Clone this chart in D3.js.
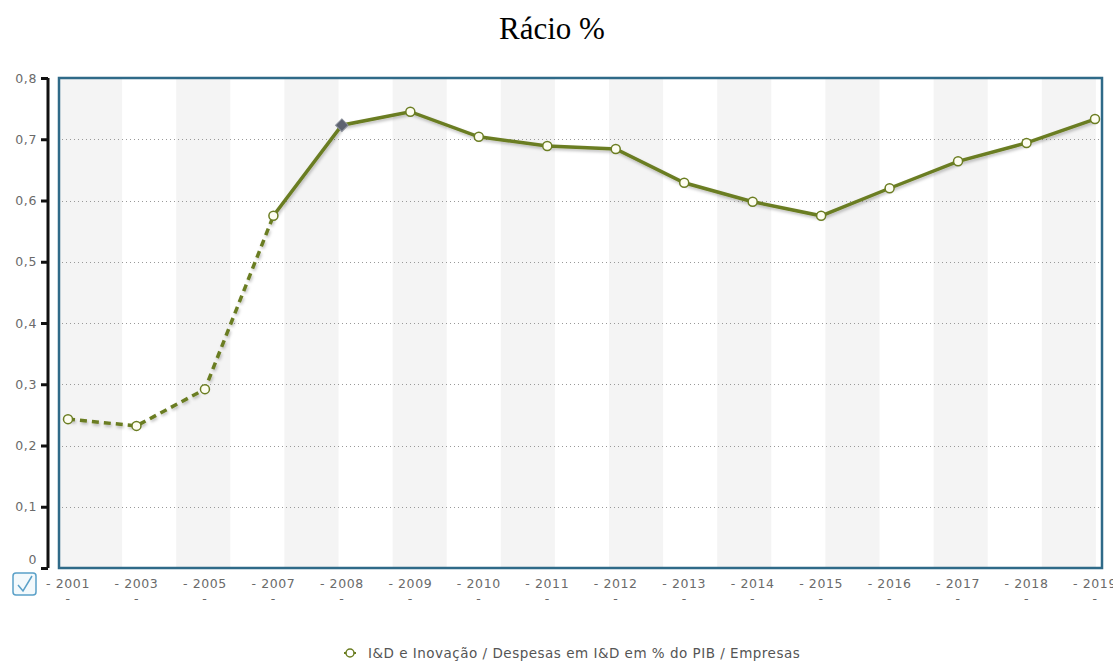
<!DOCTYPE html>
<html>
<head>
    <meta charset="utf-8">
    <title>Rácio %</title>
    <script src="https://cdn.jsdelivr.net/npm/d3@7"></script>
    <style>
        body {
            margin: 0;
            background: #fff;
        }

        .title {
            font-family: "Liberation Serif", "Times New Roman", serif;
            font-size: 31px;
            fill: #000;
        }

        .tick-label {
            font-family: "DejaVu Sans", Verdana, sans-serif;
            font-size: 12.5px;
            letter-spacing: 0.6px;
            fill: #6a6a6a;
        }

        .grid {
            stroke: #999;
            stroke-width: 1px;
            stroke-dasharray: 1, 3;
        }

        .band {
            fill: #f4f4f4;
        }

        .frame {
            fill: none;
            stroke: #2f6a88;
            stroke-width: 2.5px;
        }

        .legend {
            font-family: "DejaVu Sans", Verdana, sans-serif;
            font-size: 13.5px;
            letter-spacing: 0.5px;
            fill: #555;
        }
    </style>
</head>

<body>

<script type="text/javascript">
    var years = ['2001', '2003', '2005', '2007', '2008', '2009', '2010', '2011',
        '2012', '2013', '2014', '2015', '2016', '2017', '2018', '2019'];
    var values = [0.243, 0.232, 0.292, 0.575, 0.723, 0.745, 0.704, 0.689,
        0.684, 0.629, 0.598, 0.575, 0.620, 0.664, 0.694, 0.733];
    var yTicks = [0, 0.1, 0.2, 0.3, 0.4, 0.5, 0.6, 0.7, 0.8];
    var dashedUntil = '2007';   // estimated part of the series
    var highlighted = '2008';
    var seriesName = 'I&D e Inovação / Despesas em I&D em % do PIB / Empresas';

    var width = 1113,
        height = 664,
        lineColor = '#6b7d22';

    var frame = {left: 59, right: 1102, top: 78, bottom: 568};

    var svg = d3.select('body')
            .append('svg')
            .attr('width', width)
            .attr('height', height);

    var x = d3.scalePoint()
            .domain(years)
            .range([68, 1095]);

    var y = d3.scaleLinear()
            .domain([0, 0.8])
            .range([frame.bottom, frame.top]);

    var fmt = function (d) {
        return d === 0 ? '0' : d3.format('.1f')(d).replace('.', ',');
    };

    // title
    svg.append('text')
            .attr('class', 'title')
            .attr('x', 552)
            .attr('y', 39)
            .attr('text-anchor', 'middle')
            .text('Rácio %');

    // alternating background columns
    var bandW = 54.1;
    svg.append('g').selectAll('rect')
            .data(d3.range(0, 20, 2))
            .enter().append('rect')
            .attr('class', 'band')
            .attr('x', function (i) { return i === 0 ? frame.left : 68 + i * bandW; })
            .attr('width', function (i) { return i === 0 ? 68 + bandW - frame.left : bandW; })
            .attr('y', frame.top)
            .attr('height', frame.bottom - frame.top);

    // dotted grid
    svg.append('g').selectAll('line')
            .data(yTicks.filter(function (d) { return d > 0 && d < 0.8; }))
            .enter().append('line')
            .attr('class', 'grid')
            .attr('x1', frame.left + 3)
            .attr('x2', frame.right - 2)
            .attr('y1', function (d) { return Math.round(y(d)) + 0.5; })
            .attr('y2', function (d) { return Math.round(y(d)) + 0.5; });

    // y axis
    var yAxis = svg.append('g')
            .attr('transform', 'translate(48,0)')
            .call(d3.axisLeft(y).tickValues(yTicks).tickFormat(fmt).tickSize(7).tickPadding(4));
    yAxis.select('.domain').attr('stroke', '#111').attr('stroke-width', 3)
            .attr('d', 'M0,' + frame.top + 'V' + frame.bottom);
    yAxis.selectAll('.tick line').attr('stroke', '#111').attr('stroke-width', 3);
    yAxis.selectAll('.tick text').attr('class', 'tick-label').attr('font-family', null).attr('font-size', null)
            .attr('dy', function (d) { return d === 0 ? '-0.35em' : '0.32em'; });

    svg.append('rect')
            .attr('class', 'frame')
            .attr('x', frame.left)
            .attr('y', frame.top)
            .attr('width', frame.right - frame.left)
            .attr('height', frame.bottom - frame.top);

    // x labels
    var xl = svg.append('g').selectAll('g')
            .data(years)
            .enter().append('g')
            .attr('transform', function (d) { return 'translate(' + x(d) + ',0)'; });
    xl.append('text')
            .attr('class', 'tick-label')
            .attr('y', 588)
            .attr('text-anchor', 'middle')
            .text(function (d) { return '- ' + d; });
    xl.append('text')
            .attr('class', 'tick-label')
            .attr('y', 603)
            .attr('text-anchor', 'middle')
            .text('-');

    // checkbox icon
    var cb = svg.append('g').attr('transform', 'translate(13,573)');
    cb.append('rect').attr('width', 23).attr('height', 22).attr('rx', 3)
            .attr('fill', '#f3f9fc').attr('stroke', '#5aa0c8').attr('stroke-width', 1.5);
    cb.append('path').attr('d', 'M5,12 L10,18 L19,3')
            .attr('fill', 'none').attr('stroke', '#5aa0c8').attr('stroke-width', 1.5);

    // series
    var pts = years.map(function (d, i) { return {year: d, value: values[i]}; });
    var cut = years.indexOf(dashedUntil);
    var line = d3.line()
            .x(function (d) { return x(d.year); })
            .y(function (d) { return y(d.value); });

    var defs = svg.append('defs');
    defs.append('filter').attr('id', 'shadow')
            .attr('x', '-5%').attr('y', '-20%').attr('width', '110%').attr('height', '140%')
            .append('feDropShadow')
            .attr('dx', 1).attr('dy', 2).attr('stdDeviation', 1.5)
            .attr('flood-color', '#000').attr('flood-opacity', 0.25);

    svg.append('path')
            .datum(pts.slice(0, cut + 1))
            .attr('d', line)
            .attr('fill', 'none')
            .attr('stroke', lineColor)
            .attr('stroke-width', 3.5)
            .attr('stroke-dasharray', '7,5')
            .attr('filter', 'url(#shadow)');

    svg.append('path')
            .datum(pts.slice(cut))
            .attr('d', line)
            .attr('fill', 'none')
            .attr('stroke', lineColor)
            .attr('stroke-width', 3.5)
            .attr('filter', 'url(#shadow)');

    svg.append('g').selectAll('circle')
            .data(pts.filter(function (d) { return d.year !== highlighted; }))
            .enter().append('circle')
            .attr('cx', function (d) { return x(d.year); })
            .attr('cy', function (d) { return y(d.value); })
            .attr('r', 4.5)
            .attr('fill', '#fdfdf0')
            .attr('stroke', lineColor)
            .attr('stroke-width', 1.5);

    var hl = pts.filter(function (d) { return d.year === highlighted; })[0];
    svg.append('path')
            .attr('d', d3.symbol(d3.symbolSquare, 80)())
            .attr('transform', 'translate(' + x(hl.year) + ',' + y(hl.value) + ') rotate(45)')
            .attr('fill', '#5d6270')
            .attr('stroke', '#8a8f9a')
            .attr('stroke-width', 1);

    // legend
    var lg = svg.append('g').attr('transform', 'translate(350,658)');
    lg.append('line').attr('x1', -6).attr('x2', 6).attr('y1', -5).attr('y2', -5)
            .attr('stroke', lineColor).attr('stroke-width', 2);
    lg.append('circle').attr('cx', 0).attr('cy', -5).attr('r', 4)
            .attr('fill', '#fff').attr('stroke', lineColor).attr('stroke-width', 1.5);
    lg.append('text').attr('class', 'legend').attr('x', 18).attr('y', 0).text(seriesName);
</script>

</body>
</html>
